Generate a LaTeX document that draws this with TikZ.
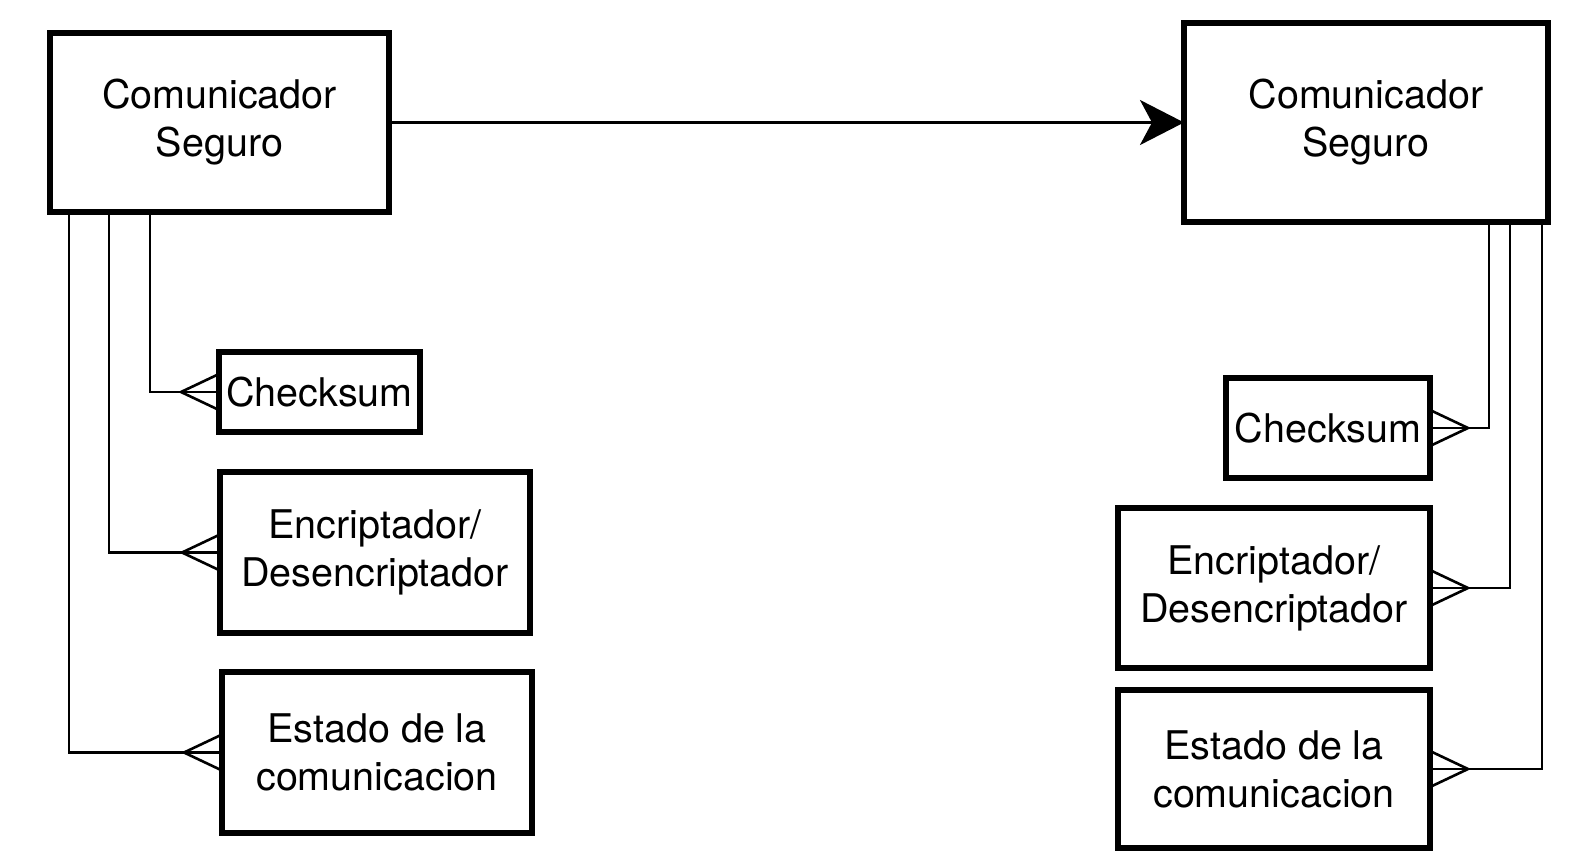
\documentclass[tikz,border=0pt]{standalone}
\usepackage{fontspec}
\setmainfont{TeX Gyre Heros}
\usetikzlibrary{arrows.meta,calc}
\tikzset{
  box/.style={draw=black, line width=6pt, fill=white, inner sep=0pt, outer sep=0pt,
    align=center, font=\fontsize{39.5}{48}\selectfont, anchor=center},
  conn/.style={draw=black, line width=2.6pt},
  foot/.style={draw=black, line width=2.6pt},
  bigarrow/.style={draw=black, line width=2.6pt, -{Stealth[length=44pt, width=45pt, inset=12pt]}}
}
\newcommand\crowW[1]{\draw[foot] ($(#1.west)+(0,-18)$) -- ($(#1.west)+(-38,0)$) -- ($(#1.west)+(0,18)$);}
\newcommand\crowE[1]{\draw[foot] ($(#1.east)+(0,-18)$) -- ($(#1.east)+(38,0)$) -- ($(#1.east)+(0,18)$);}
\begin{document}
\begin{tikzpicture}[x=1pt, y=-1pt]
\useasboundingbox (0,0) rectangle (1574,856);
% left group
\node[box, minimum width=339pt, minimum height=179pt] (L) at (219.5,122.5) {Comunicador\\Seguro};
\node[box, minimum width=201pt, minimum height=80pt] (c1) at (319.5,392) {Checksum};
\node[box, minimum width=310pt, minimum height=161pt] (e1) at (375,552.5) {Encriptador/\\Desencriptador};
\node[box, minimum width=310pt, minimum height=161pt] (s1) at (377,752.5) {Estado de la\\comunicacion};
% right group
\node[box, minimum width=364pt, minimum height=199pt] (R) at (1366,122.5) {Comunicador\\Seguro};
\node[box, minimum width=204pt, minimum height=100pt] (c2) at (1328,428) {Checksum};
\node[box, minimum width=312pt, minimum height=160pt] (e2) at (1274,588) {Encriptador/\\Desencriptador};
\node[box, minimum width=312pt, minimum height=158pt] (s2) at (1274,769) {Estado de la\\comunicacion};
% coordinates on the big boxes' bottoms
\coordinate (La) at (L.south -| 150,0);
\coordinate (Lb) at (L.south -| 109,0);
\coordinate (Lc) at (L.south -| 69,0);
\coordinate (Ra) at (R.south -| 1489,0);
\coordinate (Rb) at (R.south -| 1510,0);
\coordinate (Rc) at (R.south -| 1542,0);
% connectors
\draw[bigarrow] (L.east) -- (R.west);
\draw[conn] (La) |- (c1.west);
\draw[conn] (Lb) |- (e1.west);
\draw[conn] (Lc) |- (s1.west);
\draw[conn] (Ra) |- (c2.east);
\draw[conn] (Rb) |- (e2.east);
\draw[conn] (Rc) |- (s2.east);
\crowW{c1}\crowW{e1}\crowW{s1}
\crowE{c2}\crowE{e2}\crowE{s2}
\end{tikzpicture}
\end{document}
